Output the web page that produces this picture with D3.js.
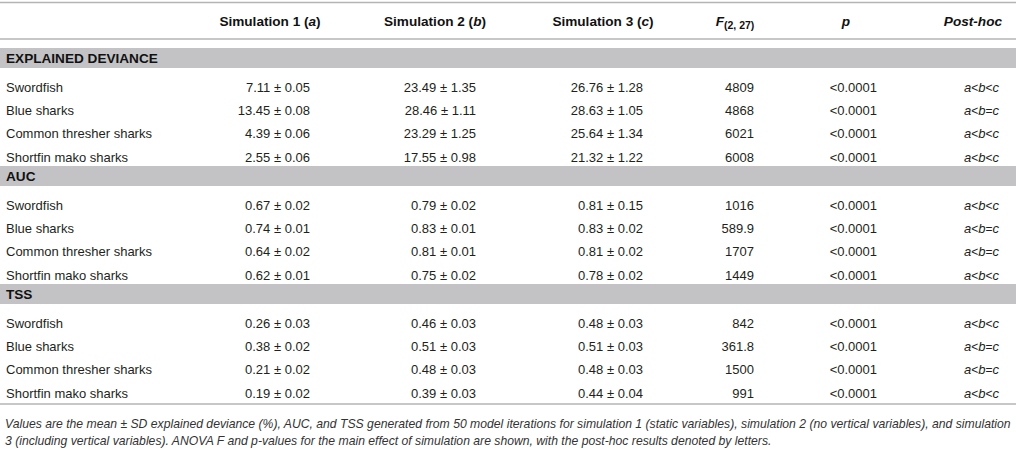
<!DOCTYPE html>
<html>
<head>
<meta charset="utf-8">
<script src="https://cdn.jsdelivr.net/npm/d3@7"></script>
<style>
  body { margin: 0; background: #fff; }
  svg { display: block; font-family: "Liberation Sans", Arial, Helvetica, sans-serif; }
</style>
</head>
<body>
<div id="table"></div>
<script>
// Donnees du tableau
var sections = ["EXPLAINED DEVIANCE", "AUC", "TSS"];
var especes = ["Swordfish", "Blue sharks", "Common thresher sharks", "Shortfin mako sharks"];

var sim1Moy = [[7.11, 13.45, 4.39, 2.55], [0.67, 0.74, 0.64, 0.62], [0.26, 0.38, 0.21, 0.19]];
var sim1Et  = [[0.05, 0.08, 0.06, 0.06], [0.02, 0.01, 0.02, 0.01], [0.03, 0.02, 0.02, 0.02]];
var sim2Moy = [[23.49, 28.46, 23.29, 17.55], [0.79, 0.83, 0.81, 0.75], [0.46, 0.51, 0.48, 0.39]];
var sim2Et  = [[1.35, 1.11, 1.25, 0.98], [0.02, 0.01, 0.01, 0.02], [0.03, 0.03, 0.03, 0.03]];
var sim3Moy = [[26.76, 28.63, 25.64, 21.32], [0.81, 0.83, 0.81, 0.78], [0.48, 0.51, 0.48, 0.44]];
var sim3Et  = [[1.28, 1.05, 1.34, 1.22], [0.15, 0.02, 0.02, 0.02], [0.03, 0.03, 0.03, 0.04]];
var valeursF = [[4809, 4868, 6021, 6008], [1016, 589.9, 1707, 1449], [842, 361.8, 1500, 991]];
var valeursP = [["<0.0001", "<0.0001", "<0.0001", "<0.0001"], ["<0.0001", "<0.0001", "<0.0001", "<0.0001"], ["<0.0001", "<0.0001", "<0.0001", "<0.0001"]];
var postHoc = [["a<b<c", "a<b=c", "a<b<c", "a<b<c"], ["a<b<c", "a<b=c", "a<b=c", "a<b<c"], ["a<b<c", "a<b=c", "a<b=c", "a<b<c"]];

var colonnes = ["sim1", "sim2", "sim3", "f", "p", "post"];
var notes = [
    "Values are the mean \u00b1 SD explained deviance (%), AUC, and TSS generated from 50 model iterations for simulation 1 (static variables), simulation 2 (no vertical variables), and simulation",
    "3 (including vertical variables). ANOVA F and p-values for the main effect of simulation are shown, with the post-hoc results denoted by letters."
];

// Dimensions
var largeur = 1016, hauteur = 449;
var fmt = d3.format(".2f");
var encre = "#231f20", trait = "#b4b4b6", bande = "#c3c3c5";

// Echelles
var xEntete = d3.scaleOrdinal().domain(colonnes).range([270, 435, 603, 735, 846, 1002]);
var xValeur = d3.scaleOrdinal().domain(colonnes).range([310, 476, 643, 754, 877, 999]);
var ySection = d3.scaleLinear().domain([0, 1]).range([48, 166]);
var yLigne = d3.scaleLinear().domain([0, 3]).range([39, 109]);

var svg = d3.select("#table").append("svg").attr("width", largeur).attr("height", hauteur);
svg.append("rect").attr("width", largeur).attr("height", hauteur).attr("fill", "#fff");

// Lignes horizontales
svg.append("line").attr("x1", 0).attr("x2", largeur).attr("y1", 2.5).attr("y2", 2.5)
    .attr("stroke", trait).attr("stroke-width", 1.5);
svg.append("line").attr("x1", 0).attr("x2", largeur).attr("y1", 39).attr("y2", 39)
    .attr("stroke", trait).attr("stroke-width", 1.5);
svg.append("line").attr("x1", 0).attr("x2", largeur).attr("y1", 404).attr("y2", 404)
    .attr("stroke", trait).attr("stroke-width", 1.5);

// En-tete
var entete = svg.append("g").attr("font-weight", "bold").attr("font-size", 13.6).attr("fill", "#111");
[["sim1", "Simulation 1 (", "a", ")"], ["sim2", "Simulation 2 (", "b", ")"], ["sim3", "Simulation 3 (", "c", ")"]]
.forEach(function (e) {
    var t = entete.append("text").attr("x", xEntete(e[0])).attr("y", 26).attr("text-anchor", "middle");
    t.append("tspan").text(e[1]);
    t.append("tspan").attr("font-style", "italic").text(e[2]);
    t.append("tspan").text(e[3]);
});
var tf = entete.append("text").attr("x", xEntete("f")).attr("y", 26).attr("text-anchor", "middle");
tf.append("tspan").attr("font-style", "italic").text("F");
tf.append("tspan").attr("font-size", 10.5).attr("dy", 3).text("(2, 27)");
entete.append("text").attr("x", xEntete("p")).attr("y", 26).attr("text-anchor", "middle")
    .attr("font-style", "italic").text("p");
entete.append("text").attr("x", xEntete("post")).attr("y", 26).attr("text-anchor", "end")
    .attr("font-style", "italic").text("Post-hoc");

// Sections
var groupes = svg.selectAll("g.section").data(sections).enter().append("g")
    .attr("class", "section")
    .attr("transform", function (d, i) { return "translate(0, " + ySection(i) + ")"; });

groupes.append("rect").attr("x", 0).attr("y", 0).attr("width", largeur).attr("height", 20).attr("fill", bande);
groupes.append("text").attr("x", 6).attr("y", 15).attr("font-weight", "bold").attr("font-size", 13.6)
    .attr("fill", "#111").text(function (d) { return d; });

// Lignes de donnees
var lignes = groupes.selectAll("g.ligne")
    .data(function (d, s) {
        return especes.map(function (nom, i) {
            return {
                nom: nom,
                sim1: fmt(sim1Moy[s][i]) + " \u00b1 " + fmt(sim1Et[s][i]),
                sim2: fmt(sim2Moy[s][i]) + " \u00b1 " + fmt(sim2Et[s][i]),
                sim3: fmt(sim3Moy[s][i]) + " \u00b1 " + fmt(sim3Et[s][i]),
                f: String(valeursF[s][i]),
                p: valeursP[s][i],
                post: postHoc[s][i]
            };
        });
    })
    .enter().append("g")
    .attr("class", "ligne")
    .attr("transform", function (d, i) { return "translate(0, " + (yLigne(i) + 4.5) + ")"; })
    .attr("font-size", 13).attr("fill", encre);

lignes.append("text").attr("x", 6).text(function (d) { return d.nom; });

["sim1", "sim2", "sim3", "f", "p"].forEach(function (c) {
    lignes.append("text").attr("x", xValeur(c)).attr("text-anchor", "end").text(function (d) { return d[c]; });
});

// Post-hoc : lettres en italique
lignes.append("text").attr("x", xValeur("post")).attr("text-anchor", "end")
    .each(function (d) {
        var t = d3.select(this);
        d.post.split("").forEach(function (ch) {
            var isLettre = /[abc]/.test(ch);
            t.append("tspan").attr("font-style", isLettre ? "italic" : "normal")
                .attr("font-size", isLettre ? 13 : 12).text(ch);
        });
    });

// Note de bas de tableau
var note = svg.append("g").attr("font-style", "italic").attr("font-size", 12).attr("fill", "#333");
note.selectAll("text").data(notes).enter().append("text")
    .attr("x", 5)
    .attr("y", function (d, i) { return 428 + i * 17; })
    .text(function (d) { return d; });

// Ajustement de la taille pour que la premiere ligne occupe la largeur
var premiere = note.select("text").node();
var mesure = premiere.getComputedTextLength();
note.attr("font-size", 12 * 1007 / mesure);
</script>
</body>
</html>
